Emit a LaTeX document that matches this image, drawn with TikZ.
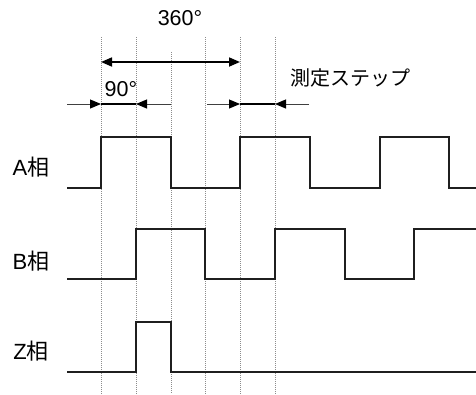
\documentclass[tikz,border=0pt]{standalone}
\usepackage{fontspec}
\setmainfont{Liberation Sans}
\newfontfamily\jp{Noto Sans CJK JP}
\usepackage{tikz}
\usetikzlibrary{arrows.meta}

\begin{document}
\begin{tikzpicture}[x=1pt,y=-1pt,
  wave/.style={line width=2.6pt,color=black!88,line join=miter},
  guide/.style={line width=0.8pt,color=black!45,dash pattern=on 1pt off 1pt},
  dimline/.style={line width=1.7pt,{Triangle[length=11pt,width=9pt]}-{Triangle[length=11pt,width=9pt]}},
  feed/.style={line width=1pt,color=black!75,-{Triangle[length=11pt,width=9pt,color=black]}},
  stepspan/.style={line width=2pt,color=black},
  lbl/.style={inner sep=0pt,font=\fontsize{22}{24}\selectfont},
  ang/.style={inner sep=0pt,font=\fontsize{21.5}{24}\selectfont}]
\useasboundingbox (0,0) rectangle (476,394);
%
\foreach \x in {101,136,205,240,275}
  \draw[guide] (\x,37) -- (\x,394);
\draw[guide] (171,52) -- (171,394);
%
\node[ang](deg360) at (180,18) {360°};
\coordinate(p0) at (101,62);
\coordinate(p1) at (240,62);
\draw[dimline](p0) -- (p1);
%
\node[ang](deg90) at (121,89) {90°};
\coordinate(a0) at (67,104);
\coordinate(a1) at (101,104);
\coordinate(a2) at (136,104);
\coordinate(a3) at (171,104);
\draw[feed](a0) -- (a1);
\draw[feed](a3) -- (a2);
\draw[stepspan](a1) -- (a2);
%
\node[ang,font=\jp\fontsize{20}{24}\selectfont](step) at (350,78) {測定ステップ};
\coordinate(b0) at (207,104);
\coordinate(b1) at (240,104);
\coordinate(b2) at (275,104);
\coordinate(b3) at (309,104);
\draw[feed](b0) -- (b1);
\draw[feed](b3) -- (b2);
\draw[stepspan](b1) -- (b2);
%
\node[lbl](phA) at (31,167) {A{\jp 相}};
\draw[wave] (67,188) -- (101,188) -- (101,137) -- (171,137) -- (171,188)
  -- (240,188) -- (240,137) -- (310,137) -- (310,188) -- (380,188)
  -- (380,137) -- (449,137) -- (449,188) -- (476,188);
%
\node[lbl](phB) at (31,261) {B{\jp 相}};
\draw[wave] (67,279) -- (136,279) -- (136,229) -- (205,229) -- (205,279)
  -- (275,279) -- (275,229) -- (345,229) -- (345,279) -- (414,279)
  -- (414,229) -- (476,229);
%
\node[lbl](phZ) at (31,351) {Z{\jp 相}};
\draw[wave] (67,372) -- (136,372) -- (136,322) -- (171,322) -- (171,372)
  -- (476,372);
\end{tikzpicture}
\end{document}
